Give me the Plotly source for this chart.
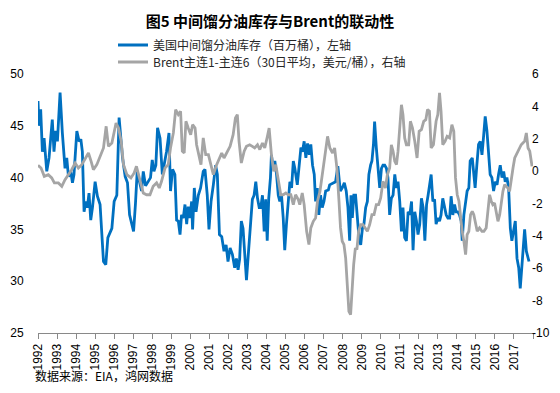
import plotly.graph_objects as go

title_text = "图5 中间馏分油库存与Brent的联动性"
name_blue = "美国中间馏分油库存（百万桶），左轴"
name_gray = "Brent主连1-主连6（30日平均，美元/桶），右轴"
source_text = "数据来源：EIA，鸿网数据"

year_ticks = list(range(1992, 2019))
year_labels = [str(y) for y in range(1992, 2018)] + [""]
left_ticks = [25, 30, 35, 40, 45, 50]
right_ticks = [-10, -8, -6, -4, -2, 0, 2, 4, 6]
right_labels = ["-10", "-8", "-6", "-4", "-2", "0", "2", "4", "6"]

blue_x = [1992.00, 1992.05, 1992.14, 1992.23, 1992.32, 1992.46, 1992.58, 1992.75, 1992.84, 1992.93,
          1993.02, 1993.16, 1993.28, 1993.42, 1993.51, 1993.60, 1993.72, 1993.81, 1993.89, 1994.04,
          1994.16, 1994.25, 1994.33, 1994.42, 1994.51, 1994.59, 1994.68, 1994.77, 1994.86, 1995.00,
          1995.12, 1995.26, 1995.44, 1995.56, 1995.67, 1995.79, 1995.88, 1996.00, 1996.14, 1996.26,
          1996.35, 1996.44, 1996.58, 1996.70, 1996.81, 1996.93, 1997.02, 1997.12, 1997.21, 1997.44,
          1997.53, 1997.65, 1997.79, 1997.91, 1998.00, 1998.09, 1998.19, 1998.28, 1998.41, 1998.53,
          1998.62, 1998.75, 1998.88, 1998.96, 1999.07, 1999.19, 1999.28, 1999.37, 1999.46, 1999.54,
          1999.63, 1999.72, 1999.81, 1999.89, 1999.98, 2000.07, 2000.12, 2000.21, 2000.30, 2000.42,
          2000.54, 2000.68, 2000.77, 2000.89, 2000.98, 2001.09, 2001.21, 2001.33, 2001.42, 2001.53,
          2001.65, 2001.77, 2001.88, 2001.98, 2002.09, 2002.21, 2002.33, 2002.42, 2002.51, 2002.59,
          2002.68, 2002.77, 2002.86, 2002.95, 2003.07, 2003.17, 2003.26, 2003.35, 2003.44, 2003.53,
          2003.62, 2003.70, 2003.79, 2003.88, 2003.96, 2004.04, 2004.12, 2004.21, 2004.26, 2004.35,
          2004.44, 2004.53, 2004.62, 2004.70, 2004.79, 2004.88, 2004.96, 2005.05, 2005.14, 2005.23,
          2005.32, 2005.41, 2005.49, 2005.62, 2005.72, 2005.81, 2005.89, 2005.98, 2006.07, 2006.16,
          2006.25, 2006.33, 2006.42, 2006.51, 2006.58, 2006.67, 2006.75, 2006.84, 2006.93, 2007.02,
          2007.11, 2007.25, 2007.32, 2007.49, 2007.63, 2007.75, 2007.88, 2007.98, 2008.09, 2008.19,
          2008.28, 2008.37, 2008.44, 2008.51, 2008.59, 2008.68, 2008.77, 2008.86, 2008.95, 2009.04,
          2009.12, 2009.21, 2009.30, 2009.38, 2009.47, 2009.54, 2009.62, 2009.68, 2009.77, 2009.86,
          2009.95, 2010.04, 2010.12, 2010.21, 2010.30, 2010.38, 2010.47, 2010.56, 2010.65, 2010.74,
          2010.83, 2010.91, 2011.00, 2011.09, 2011.17, 2011.26, 2011.35, 2011.44, 2011.53, 2011.62,
          2011.70, 2011.79, 2011.88, 2011.96, 2012.05, 2012.14, 2012.23, 2012.32, 2012.41, 2012.49,
          2012.58, 2012.65, 2012.74, 2012.83, 2012.91, 2013.00, 2013.09, 2013.17, 2013.26, 2013.35,
          2013.44, 2013.53, 2013.62, 2013.70, 2013.79, 2013.88, 2013.96, 2014.05, 2014.14, 2014.23,
          2014.28, 2014.37, 2014.46, 2014.54, 2014.63, 2014.70, 2014.81, 2014.89, 2014.96, 2015.05,
          2015.14, 2015.23, 2015.32, 2015.41, 2015.49, 2015.58, 2015.67, 2015.75, 2015.84, 2015.93,
          2016.02, 2016.11, 2016.19, 2016.28, 2016.37, 2016.46, 2016.54, 2016.63, 2016.72, 2016.81,
          2016.89, 2016.98, 2017.07, 2017.16, 2017.25, 2017.33, 2017.42, 2017.51, 2017.56, 2017.65,
          2017.74, 2017.79]
blue_y = [47.4, 45.0, 46.6, 42.5, 43.8, 40.6, 41.9, 45.6, 42.5, 44.5,
          43.5, 48.2, 44.3, 40.9, 41.9, 40.1, 40.6, 39.5, 40.3, 44.5,
          43.5, 43.7, 42.5, 36.7, 37.7, 37.1, 38.5, 35.9, 37.1, 39.6,
          38.2, 37.4, 31.9, 31.6, 34.2, 34.8, 35.1, 37.7, 38.3, 45.8,
          44.1, 41.9, 40.1, 39.5, 36.4, 35.5, 34.8, 37.5, 40.6, 38.7,
          40.6, 39.2, 39.6, 40.0, 41.7, 40.6, 41.2, 44.8, 43.8, 40.3,
          41.2, 42.5, 44.3, 38.7, 40.8, 40.3, 35.9, 35.8, 34.5, 36.4,
          36.1, 37.4, 35.5, 37.2, 36.1, 37.7, 35.0, 39.0, 36.7, 38.3,
          39.0, 40.6, 40.8, 38.3, 35.0, 37.7, 39.3, 41.2, 40.3, 34.5,
          34.3, 32.9, 33.5, 31.9, 33.2, 32.6, 31.3, 32.2, 31.1, 32.1,
          35.8, 35.1, 32.6, 30.1, 33.2, 35.5, 37.9, 38.3, 39.6, 38.0,
          37.1, 37.1, 38.3, 34.8, 37.9, 33.9, 38.0, 40.0, 42.2, 40.9,
          41.6, 40.3, 38.3, 37.7, 38.3, 36.1, 33.0, 35.5, 37.7, 39.6,
          39.0, 41.6, 40.9, 39.3, 41.2, 42.9, 42.5, 43.5, 41.9, 43.3,
          42.2, 43.2, 41.2, 40.3, 37.7, 39.0, 36.4, 38.3, 37.1, 37.7,
          38.7, 38.8, 39.3, 39.5, 39.6, 41.1, 38.7, 39.0, 39.5, 38.7,
          37.1, 33.9, 38.3, 36.1, 38.3, 38.3, 36.1, 34.2, 33.5, 35.1,
          35.5, 37.1, 37.7, 40.3, 41.2, 41.6, 43.2, 45.4, 42.9, 40.6,
          39.0, 40.9, 41.2, 41.2, 40.9, 40.0, 36.4, 38.0, 38.3, 40.3,
          39.0, 39.6, 37.7, 34.8, 37.1, 34.2, 33.9, 36.7, 36.4, 37.7,
          33.0, 36.7, 35.8, 34.5, 35.5, 38.0, 37.1, 33.9, 37.4, 38.3,
          39.3, 40.3, 37.7, 37.9, 35.5, 36.1, 35.8, 36.4, 38.0, 37.1,
          36.4, 36.1, 36.1, 38.2, 36.4, 37.4, 36.7, 36.7, 36.4, 35.8,
          33.9, 36.4, 37.7, 38.7, 39.0, 41.6, 41.9, 40.6, 39.0, 41.2,
          43.2, 43.5, 42.2, 44.1, 45.9, 44.5, 42.5, 40.3, 40.0, 38.7,
          39.6, 39.3, 40.3, 41.2, 40.0, 40.6, 39.6, 40.0, 39.0, 35.1,
          33.9, 34.8, 35.8, 32.2, 31.3, 29.3, 31.6, 33.2, 35.0, 32.9,
          32.2, 31.9]

gray_x = [1992.00, 1992.16, 1992.33, 1992.54, 1992.72, 1992.86, 1993.07, 1993.25, 1993.42, 1993.60,
          1993.77, 1993.95, 1994.12, 1994.30, 1994.47, 1994.65, 1994.79, 1994.91, 1995.09, 1995.26,
          1995.44, 1995.58, 1995.70, 1995.88, 1996.10, 1996.23, 1996.37, 1996.49, 1996.67, 1996.88,
          1997.05, 1997.17, 1997.35, 1997.53, 1997.70, 1997.88, 1998.05, 1998.23, 1998.37, 1998.49,
          1998.67, 1998.84, 1998.96, 1999.11, 1999.23, 1999.37, 1999.49, 1999.58, 1999.68, 1999.77,
          1999.89, 2000.02, 2000.12, 2000.25, 2000.33, 2000.46, 2000.56, 2000.68, 2000.81, 2000.95,
          2001.07, 2001.21, 2001.35, 2001.53, 2001.65, 2001.77, 2001.91, 2002.09, 2002.25, 2002.37,
          2002.47, 2002.56, 2002.68, 2002.83, 2002.95, 2003.12, 2003.26, 2003.38, 2003.53, 2003.65,
          2003.79, 2003.91, 2004.05, 2004.14, 2004.26, 2004.38, 2004.49, 2004.62, 2004.75, 2004.88,
          2005.02, 2005.14, 2005.28, 2005.41, 2005.53, 2005.67, 2005.75, 2005.88, 2005.98, 2006.11,
          2006.23, 2006.33, 2006.46, 2006.58, 2006.68, 2006.81, 2006.93, 2007.07, 2007.21, 2007.33,
          2007.47, 2007.58, 2007.70, 2007.81, 2007.89, 2007.98, 2008.07, 2008.16, 2008.25, 2008.33,
          2008.42, 2008.51, 2008.58, 2008.67, 2008.75, 2008.84, 2008.95, 2009.07, 2009.19, 2009.30,
          2009.42, 2009.54, 2009.65, 2009.77, 2009.89, 2010.00, 2010.12, 2010.25, 2010.35, 2010.47,
          2010.56, 2010.65, 2010.74, 2010.83, 2010.91, 2011.00, 2011.09, 2011.17, 2011.26, 2011.35,
          2011.47, 2011.56, 2011.67, 2011.79, 2011.91, 2012.02, 2012.14, 2012.26, 2012.37, 2012.46,
          2012.56, 2012.65, 2012.77, 2012.91, 2013.00, 2013.09, 2013.17, 2013.26, 2013.38, 2013.49,
          2013.62, 2013.74, 2013.84, 2013.93, 2014.02, 2014.11, 2014.19, 2014.28, 2014.37, 2014.46,
          2014.54, 2014.63, 2014.72, 2014.81, 2014.89, 2014.98, 2015.07, 2015.19, 2015.32, 2015.42,
          2015.54, 2015.63, 2015.72, 2015.81, 2015.89, 2015.98, 2016.07, 2016.16, 2016.25, 2016.33,
          2016.42, 2016.51, 2016.59, 2016.68, 2016.77, 2016.86, 2016.95, 2017.04, 2017.12, 2017.21,
          2017.30, 2017.38, 2017.47, 2017.56, 2017.65, 2017.74, 2017.83, 2017.95]
gray_y = [0.36, 0.19, -0.32, -0.22, -0.42, -0.73, -0.73, -0.94, -0.53, -0.22,
          0.09, 0.50, 0.19, 0.40, 0.71, 1.12, 0.60, 0.09, 0.40, 0.92,
          1.43, 2.77, 1.53, 1.74, 2.97, 2.66, 1.84, 0.40, -0.22, -0.42,
          -0.11, 0.30, -0.63, -1.35, -1.46, -1.46, -0.94, -0.73, -1.04, -0.63,
          0.19, 0.40, 1.43, 2.36, 3.80, 3.49, 3.70, 1.23, 1.12, 3.08,
          2.66, 2.25, 2.87, 2.66, 1.63, 1.02, 0.40, 2.05, 1.02, 1.02,
          0.50, -0.22, 0.30, 0.81, 1.12, 0.81, 1.12, 1.53, 2.25, 3.28,
          3.49, 1.84, 0.50, 1.23, 1.53, 1.63, 1.53, 1.43, 1.63, 1.33,
          1.74, 1.43, 2.15, 2.66, 1.02, -0.01, 0.40, -0.42, -1.46, -1.46,
          -1.35, -1.46, -1.46, -2.07, -1.46, -1.76, -2.07, -1.35, -2.07, -3.72,
          -4.54, -3.51, -3.10, -2.90, -1.86, -1.25, -0.22, 1.23, 2.15, 1.43,
          1.12, 1.43, 0.19, -1.86, -3.51, -4.33, -4.54, -5.37, -7.01, -8.66,
          -8.87, -6.80, -5.78, -4.75, -4.85, -3.72, -3.31, -3.31, -3.51, -3.72,
          -3.31, -2.69, -2.69, -2.07, -2.07, -1.66, -0.63, -1.04, -0.22, 0.19,
          1.63, 1.23, 0.60, 0.40, 1.23, 2.87, 4.10, 3.49, 2.05, 1.63,
          1.63, 3.08, 2.66, 1.84, 0.81, 2.46, 2.56, 3.08, 3.18, 3.80,
          3.70, 1.43, 1.63, 3.08, 3.49, 4.83, 3.70, 1.63, 1.84, 2.15,
          2.05, 2.87, 2.46, -0.42, -1.46, -1.86, -2.90, -3.72, -4.33, -5.16,
          -3.93, -3.72, -2.69, -2.48, -2.69, -3.31, -3.72, -3.51, -3.72, -3.72,
          -3.51, -2.48, -1.46, -1.86, -2.07, -1.97, -2.69, -3.10, -2.69, -1.86,
          -1.25, -0.84, -0.94, -1.04, -1.25, -0.42, 0.19, 0.81, 1.02, 1.23,
          1.53, 1.63, 1.74, 1.84, 2.36, 1.43, 1.23, 0.30]

W, H = 560, 393
ML, MR, MT, MB = 30, 35, 66, 68
PW, PH = W - ML - MR, H - MT - MB

cjk = "Noto Sans CJK SC"
latin = "Liberation Sans"

fig = go.Figure()
fig.add_trace(go.Scatter(
    x=blue_x, y=blue_y, mode="lines", name=name_blue,
    line=dict(color="#0070C0", width=2.8), yaxis="y", legend="legend",
))
fig.add_trace(go.Scatter(
    x=gray_x, y=gray_y, mode="lines", name=name_gray,
    line=dict(color="#A5A5A5", width=2.8), yaxis="y2", legend="legend2",
))

def px_x(p):
    return (p - ML) / PW

def px_y(p):
    return 1 + (MT - p) / PH

legend_common = dict(
    font=dict(family=cjk, size=12, color="#262626"),
    bgcolor="rgba(0,0,0,0)", borderwidth=0,
    xanchor="left", yanchor="middle", orientation="v",
    itemwidth=30,
)

fig.update_layout(
    width=W, height=H,
    margin=dict(l=ML, r=MR, t=MT, b=MB, autoexpand=False),
    paper_bgcolor="white", plot_bgcolor="white",
    title=dict(
        text=title_text, x=262 / W, xanchor="center", xref="container",
        y=1 - 14 / H, yanchor="middle", yref="container",
        font=dict(family=cjk, size=15, color="#000000", weight="bold"),
    ),
    showlegend=True,
    legend=dict(x=px_x(105), y=px_y(37), **legend_common),
    legend2=dict(x=px_x(105), y=px_y(54), **legend_common),
    xaxis=dict(
        range=[1992, 2018], tickmode="array", tickvals=year_ticks, ticktext=year_labels,
        tickangle=-90, ticks="outside", ticklen=5, tickcolor="#898989", tickwidth=1,
        showline=True, linecolor="#898989", linewidth=1, showgrid=False, zeroline=False,
        automargin=False,
        tickfont=dict(family=latin, size=12, color="#000000"),
    ),
    yaxis=dict(
        range=[25, 50], tickmode="array", tickvals=left_ticks,
        showgrid=False, zeroline=False, showline=False,
        ticks="outside", ticklen=11, tickcolor="rgba(0,0,0,0)",
        automargin=False,
        tickfont=dict(family=latin, size=12, color="#000000"),
    ),
    yaxis2=dict(
        range=[-10, 6], tickmode="array", tickvals=right_ticks, ticktext=right_labels,
        overlaying="y", side="right",
        showgrid=False, zeroline=False, showline=False, ticks="",
        ticklabelstandoff=-2, automargin=False,
        tickfont=dict(family=latin, size=12, color="#000000"),
    ),
    annotations=[dict(
        text=source_text, xref="paper", yref="paper",
        x=px_x(25), y=px_y(367), xanchor="left", yanchor="middle", showarrow=False,
        font=dict(family=cjk, size=12, color="#000000"),
    )],
)

fig.write_html("out.html")
